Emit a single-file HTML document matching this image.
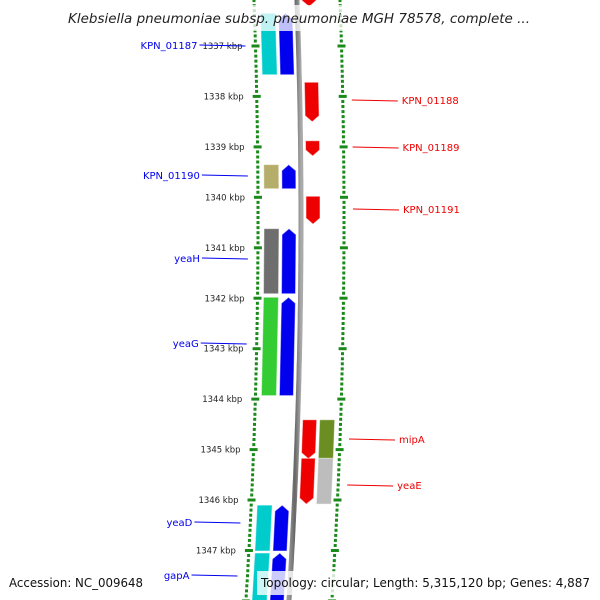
<!DOCTYPE html>
<html><head><meta charset="utf-8"><style>
body{margin:0;background:#fff}
svg{display:block;font-family:"DejaVu Sans","Liberation Sans",sans-serif}
</style></head><body>
<svg id="map" width="600" height="600" viewBox="0 0 600 600" xmlns="http://www.w3.org/2000/svg">
<defs>
<linearGradient id="bb" x1="0" x2="1"><stop offset="0" stop-color="#999"/><stop offset="0.5" stop-color="#666"/><stop offset="1" stop-color="#aaa"/></linearGradient>
</defs>
<g id="rings"></g>
<g id="feats"></g>
<g id="labels"></g>
<rect x="0" y="5" width="600" height="26" fill="#fff" opacity="0.75"/>
<text x="68" y="23" font-size="13" font-style="italic" fill="#222" textLength="462" lengthAdjust="spacingAndGlyphs">Klebsiella pneumoniae subsp. pneumoniae MGH 78578, complete ...</text>
<text x="9" y="587" font-size="12.5" fill="#111" textLength="134" lengthAdjust="spacingAndGlyphs">Accession: NC_009648</text>
<rect x="257" y="571" width="336" height="24" fill="#fff" opacity="0.8"/>
<text x="261" y="587" font-size="12.5" fill="#111" textLength="329" lengthAdjust="spacingAndGlyphs">Topology: circular; Length: 5,315,120 bp; Genes: 4,887</text>
</svg>
<script>
const tickKbp=[1337,1338,1339,1340,1341,1342,1343,1344,1345,1346,1347];
const featNames=["KPN_01187","KPN_01190","yeaH","yeaG","yeaD","gapA","top","KPN_01188","KPN_01189","KPN_01191","mipA","yeaE"];
const featStart=[1336.35,1339.35,1340.62,1341.98,1346.10,1347.05,1336.00,1337.72,1338.88,1339.98,1344.41,1345.17];
const featEnd=[1337.57,1339.83,1341.91,1343.93,1347.01,1348.10,1336.22,1338.50,1339.18,1340.53,1345.18,1346.08];
const featStrand=[1,1,1,1,1,1,-1,-1,-1,-1,-1,-1];
const featCog=["#00cccc","#b5ad6a","#6e6e6e","#33cc33","#00cccc","#00cccc",null,null,null,null,"#6b8e23","#bdbdbd"];
const labelSide=[-1,-1,-1,-1,-1,-1,0,1,1,1,1,1];
const labelY=[45,175,258,343,522,575,0,100,147,209,439,485];

const NS="http://www.w3.org/2000/svg";
const y0=46,pxPerKbp=50.45;
function yOf(k){return y0+(k-1337)*pxPerKbp;}
function bx(y){return 301-(y-220)*(y-220)/(2*6000);}
function mk(tag,attrs,parent){const e=document.createElementNS(NS,tag);for(const a in attrs)e.setAttribute(a,attrs[a]);parent.appendChild(e);return e;}
const rings=document.getElementById('rings'),feats=document.getElementById('feats'),labels=document.getElementById('labels');

let d="";for(let y=-5;y<=605;y+=5){d+=(y===-5?"M":"L")+bx(y).toFixed(1)+" "+y;}
const bb=mk('path',{d:d,stroke:'url(#bb)','stroke-width':5,fill:'none'},rings);



for(const side of [-1,1]){
  const off=side<0?-43:43;
  for(let k=1336.1;k<=1348.1;k+=0.1){
    const y=yOf(k);if(y<-5||y>605)continue;
    const major=Math.abs(k-Math.round(k))<0.01;
    const x=bx(y)+off;
    const w=major?8:3;
    const r=mk('rect',{x:(x-w/2).toFixed(1),y:(y-1.5).toFixed(1),width:w,height:3,fill:'#1a8a1a'},rings);
    
    
  }
}
tickKbp.forEach(k=>{
  const y=yOf(k);
  const t=mk('text',{x:(bx(y)-56).toFixed(1),y:(y+3).toFixed(1),'font-size':8.5,'text-anchor':'end',fill:'#222'},rings);
  t.textContent=k+" kbp";
  
  
});

function block(k1,k2,o1,o2,color,arrow,name){
  const ya=yOf(k1),yb=yOf(k2);
  const xa=bx(ya),xb=bx(yb);
  let pts;
  const h=6;
  if(arrow===1){
    const ym=ya+h;const xm=bx(ym);
    pts=[[xb+o1,yb],[xm+o1,ym],[xa+(o1+o2)/2,ya],[xm+o2,ym],[xb+o2,yb]];
  }else if(arrow===-1){
    const ym=yb-h;const xm=bx(ym);
    pts=[[xa+o1,ya],[xa+o2,ya],[xm+o2,ym],[xb+(o1+o2)/2,yb],[xm+o1,ym]];
  }else{
    pts=[[xa+o1,ya],[xa+o2,ya],[xb+o2,yb],[xb+o1,yb]];
  }
  const p=mk('polygon',{points:pts.map(q=>q[0].toFixed(1)+","+q[1].toFixed(1)).join(" "),fill:color,stroke:'rgba(255,255,255,0.5)','stroke-width':1},feats);
  
  
}

featNames.forEach((n,i)=>{
  const s=featStrand[i];
  if(s>0){
    block(featStart[i],featEnd[i],-19,-5,'#0000ee',1,'feature-'+n.toLowerCase());
    if(featCog[i])block(featStart[i],featEnd[i],-37,-22,featCog[i],0,'cog-'+n.toLowerCase());
  }else{
    block(featStart[i],featEnd[i],5,19,'#ee0000',-1,'feature-'+n.toLowerCase());
    if(featCog[i])block(featStart[i],featEnd[i],22,37,featCog[i],0,'cog-'+n.toLowerCase());
  }
  const side=labelSide[i];
  if(side===0)return;
  const ly=labelY[i];
  const col=side<0?'#0000ee':'#ee0000';
  if(side<0){
    const ex=bx(ly)-53;
    const l=mk('line',{x1:ex-46,y1:ly,x2:ex,y2:ly+1,stroke:col,'stroke-width':1},labels);
    
    
    const t=mk('text',{x:ex-48,y:ly+4,'font-size':10,'text-anchor':'end',fill:col},labels);
    t.textContent=n;
    
    
  }else{
    const sx=bx(ly)+52;
    const l=mk('line',{x1:sx,y1:ly,x2:sx+46,y2:ly+1,stroke:col,'stroke-width':1},labels);
    
    
    const t=mk('text',{x:sx+50,y:ly+4,'font-size':10,fill:col},labels);
    t.textContent=n;
    
    
  }
});
</script>
</body></html>
